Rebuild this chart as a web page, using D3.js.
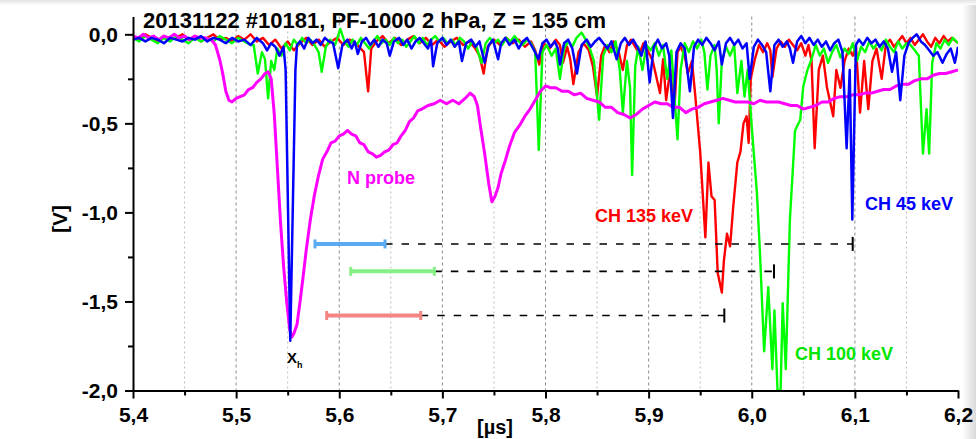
<!DOCTYPE html>
<html>
<head>
<meta charset="utf-8">
<script src="https://cdn.jsdelivr.net/npm/d3@7"></script>
<style>
  body { margin: 0; background: #fff; }
  svg { display: block; font-family: "Liberation Sans", Arial, sans-serif; }
</style>
</head>
<body>
<div id="chart"></div>
<script>
// -----------------------------
// DATA
// time in µs, signal in V
// -----------------------------
const titleText = "20131122 #10181, PF-1000 2 hPa, Z = 135 cm";

const xMajorTicks = [5.4, 5.5, 5.6, 5.7, 5.8, 5.9, 6.0, 6.1, 6.2];
const xMinorTicks = [5.45, 5.55, 5.65, 5.75, 5.85, 5.95, 6.05, 6.15];
const yMajorTicks = [0.0, -0.5, -1.0, -1.5, -2.0];
const yMinorTicks = [-0.25, -0.75, -1.25, -1.75];

// N probe (magenta)
const nProbe = [
  [5.400,-0.01],[5.405,-0.02],[5.410,0.00],[5.415,-0.02],[5.420,-0.01],[5.425,-0.03],[5.430,-0.01],
  [5.435,-0.02],[5.440,0.00],[5.445,-0.02],[5.450,-0.01],[5.455,-0.03],[5.460,-0.01],[5.465,-0.02],
  [5.470,-0.02],[5.476,-0.03],[5.480,-0.06],[5.484,-0.14],[5.487,-0.22],[5.490,-0.32],[5.493,-0.37],
  [5.496,-0.38],[5.500,-0.36],[5.504,-0.35],[5.508,-0.34],[5.512,-0.31],[5.516,-0.30],[5.520,-0.27],
  [5.524,-0.25],[5.528,-0.22],[5.531,-0.21],[5.534,-0.25],[5.537,-0.45],[5.540,-0.75],[5.543,-1.05],
  [5.546,-1.30],[5.549,-1.50],[5.552,-1.66],[5.554,-1.70],[5.556,-1.68],[5.559,-1.63],[5.562,-1.50],
  [5.565,-1.36],[5.568,-1.21],[5.572,-1.04],[5.576,-0.90],[5.580,-0.79],[5.584,-0.70],[5.588,-0.66],
  [5.592,-0.61],[5.596,-0.60],[5.600,-0.57],[5.604,-0.56],[5.608,-0.54],[5.612,-0.56],[5.616,-0.57],
  [5.620,-0.61],[5.624,-0.62],[5.628,-0.66],[5.632,-0.67],[5.636,-0.69],[5.640,-0.68],[5.644,-0.66],
  [5.648,-0.65],[5.652,-0.62],[5.656,-0.61],[5.660,-0.57],[5.664,-0.54],[5.668,-0.49],[5.672,-0.47],
  [5.676,-0.43],[5.680,-0.42],[5.686,-0.40],[5.692,-0.39],[5.698,-0.37],[5.704,-0.39],[5.710,-0.37],
  [5.716,-0.39],[5.722,-0.36],[5.727,-0.33],[5.731,-0.35],[5.734,-0.40],[5.737,-0.52],[5.741,-0.67],
  [5.745,-0.84],[5.748,-0.94],[5.751,-0.91],[5.754,-0.86],[5.757,-0.78],[5.761,-0.71],[5.765,-0.63],
  [5.770,-0.55],[5.775,-0.51],[5.780,-0.46],[5.785,-0.42],[5.790,-0.37],[5.795,-0.32],[5.800,-0.29],
  [5.805,-0.30],[5.810,-0.30],[5.816,-0.32],[5.822,-0.32],[5.828,-0.34],[5.834,-0.33],[5.840,-0.36],
  [5.846,-0.37],[5.852,-0.38],[5.858,-0.41],[5.864,-0.41],[5.870,-0.44],[5.876,-0.45],[5.882,-0.47],
  [5.888,-0.45],[5.894,-0.42],[5.900,-0.40],[5.906,-0.38],[5.912,-0.39],[5.918,-0.39],[5.924,-0.41],
  [5.930,-0.41],[5.936,-0.44],[5.942,-0.42],[5.948,-0.41],[5.954,-0.39],[5.960,-0.38],[5.966,-0.37],
  [5.972,-0.36],[5.978,-0.37],[5.984,-0.38],[5.990,-0.38],[5.996,-0.38],[6.002,-0.39],[6.008,-0.37],
  [6.014,-0.38],[6.020,-0.38],[6.026,-0.38],[6.032,-0.39],[6.038,-0.40],[6.044,-0.40],[6.050,-0.42],
  [6.056,-0.41],[6.062,-0.40],[6.068,-0.38],[6.074,-0.38],[6.080,-0.36],[6.086,-0.35],[6.092,-0.35],
  [6.098,-0.34],[6.104,-0.34],[6.110,-0.33],[6.116,-0.33],[6.122,-0.32],[6.128,-0.31],[6.134,-0.31],
  [6.140,-0.29],[6.146,-0.28],[6.152,-0.28],[6.158,-0.26],[6.164,-0.25],[6.170,-0.25],[6.176,-0.23],
  [6.182,-0.22],[6.188,-0.22],[6.194,-0.21],[6.200,-0.20]
];

// CH 135 keV (red)
const ch135 = [
  [5.400,-0.01],[5.406,-0.03],[5.412,0.00],[5.418,-0.02],[5.424,-0.04],[5.430,-0.01],[5.436,-0.03],
  [5.442,-0.02],[5.448,0.00],[5.454,-0.03],[5.460,-0.01],[5.466,-0.04],[5.472,-0.02],[5.478,0.00],
  [5.484,-0.03],[5.490,-0.02],[5.496,-0.04],[5.502,-0.01],[5.508,-0.03],[5.514,0.00],[5.520,-0.04],
  [5.526,-0.02],[5.532,-0.06],[5.538,-0.03],[5.544,-0.08],[5.550,-0.04],[5.556,-0.09],[5.562,-0.05],
  [5.568,-0.02],[5.574,-0.06],[5.580,-0.03],[5.586,-0.07],[5.592,-0.04],[5.598,-0.02],[5.604,-0.06],
  [5.610,-0.03],[5.616,-0.05],[5.624,-0.10],[5.628,-0.32],[5.631,-0.08],[5.636,-0.04],[5.642,-0.01],
  [5.648,-0.05],[5.654,-0.02],[5.660,-0.06],[5.666,-0.03],[5.672,-0.01],[5.678,-0.05],[5.684,-0.02],
  [5.690,-0.06],[5.696,-0.03],[5.702,-0.07],[5.708,-0.04],[5.714,-0.02],[5.720,-0.06],[5.726,-0.04],
  [5.732,-0.08],[5.736,-0.12],[5.740,-0.22],[5.744,-0.07],[5.750,-0.03],[5.756,-0.06],[5.762,-0.02],
  [5.768,-0.05],[5.774,-0.03],[5.780,-0.07],[5.786,-0.04],[5.790,-0.09],[5.794,-0.17],[5.798,-0.05],
  [5.804,-0.08],[5.810,-0.03],[5.814,-0.06],[5.817,-0.16],[5.821,-0.07],[5.824,-0.14],[5.827,-0.28],
  [5.832,-0.10],[5.837,-0.05],[5.842,-0.09],[5.846,-0.18],[5.850,-0.35],[5.854,-0.12],[5.858,-0.06],
  [5.862,-0.10],[5.866,-0.04],[5.871,-0.10],[5.875,-0.20],[5.879,-0.06],[5.883,-0.03],[5.887,-0.07],
  [5.891,-0.11],[5.895,-0.05],[5.899,-0.09],[5.904,-0.15],[5.911,-0.33],[5.914,-0.14],[5.917,-0.37],
  [5.921,-0.20],[5.925,-0.42],[5.928,-0.10],[5.931,-0.07],[5.935,-0.12],[5.938,-0.22],[5.942,-0.15],
  [5.945,-0.33],[5.950,-0.66],[5.955,-1.14],[5.958,-0.72],[5.961,-0.91],[5.964,-0.93],[5.967,-1.34],
  [5.971,-1.45],[5.973,-1.27],[5.976,-1.12],[5.979,-1.19],[5.982,-0.97],[5.986,-0.72],[5.989,-0.66],
  [5.992,-0.50],[5.995,-0.46],[5.997,-0.61],[5.999,-0.25],[6.003,-0.14],[6.007,-0.06],[6.011,-0.10],
  [6.015,-0.05],[6.018,-0.09],[6.020,-0.24],[6.024,-0.08],[6.028,-0.04],[6.032,-0.07],[6.036,-0.03],
  [6.040,-0.06],[6.044,-0.09],[6.048,-0.05],[6.052,-0.12],[6.055,-0.06],[6.058,-0.15],[6.061,-0.64],
  [6.065,-0.20],[6.069,-0.12],[6.073,-0.30],[6.079,-0.46],[6.082,-0.20],[6.086,-0.30],[6.090,-0.15],
  [6.094,-0.08],[6.098,-0.12],[6.101,-0.06],[6.105,-0.44],[6.109,-0.15],[6.113,-0.42],[6.117,-0.15],
  [6.121,-0.08],[6.126,-0.25],[6.130,-0.06],[6.134,-0.03],[6.138,-0.07],[6.142,-0.04],[6.146,-0.01],
  [6.150,-0.05],[6.154,-0.02],[6.158,-0.06],[6.162,-0.03],[6.166,0.00],[6.170,-0.04],[6.174,-0.07],
  [6.178,-0.02],[6.182,-0.05],[6.186,-0.01],[6.190,-0.04],[6.194,-0.02],[6.200,-0.05]
];

// CH 100 keV (green)
const ch100 = [
  [5.400,-0.02],[5.406,-0.04],[5.412,-0.01],[5.418,-0.03],[5.424,-0.05],[5.430,-0.02],[5.436,-0.04],
  [5.442,-0.01],[5.448,-0.03],[5.454,-0.05],[5.460,-0.02],[5.466,-0.04],[5.472,-0.02],[5.478,-0.04],
  [5.484,-0.01],[5.490,-0.03],[5.496,-0.05],[5.502,-0.02],[5.508,-0.04],[5.514,-0.06],[5.517,-0.06],
  [5.521,-0.22],[5.525,-0.10],[5.528,-0.14],[5.531,-0.36],[5.534,-0.15],[5.537,-0.20],[5.540,-0.08],
  [5.544,-0.12],[5.548,-0.05],[5.552,-0.09],[5.556,-0.03],[5.560,-0.06],[5.564,-0.02],[5.568,-0.05],
  [5.572,-0.03],[5.576,-0.06],[5.580,-0.10],[5.583,-0.21],[5.587,-0.07],[5.591,-0.03],[5.596,-0.06],
  [5.601,0.03],[5.605,-0.04],[5.609,-0.07],[5.613,-0.03],[5.617,-0.06],[5.621,-0.02],[5.625,-0.05],
  [5.629,-0.08],[5.633,-0.04],[5.637,-0.01],[5.641,-0.05],[5.645,-0.03],[5.649,-0.06],[5.653,-0.02],
  [5.657,-0.05],[5.661,-0.03],[5.665,-0.07],[5.669,-0.04],[5.673,-0.01],[5.677,-0.05],[5.681,-0.02],
  [5.685,-0.06],[5.689,-0.03],[5.693,-0.01],[5.697,-0.04],[5.701,-0.02],[5.705,-0.05],[5.709,-0.03],
  [5.713,-0.06],[5.717,-0.02],[5.721,-0.04],[5.725,-0.08],[5.729,-0.04],[5.733,-0.07],[5.738,-0.16],
  [5.742,-0.05],[5.746,-0.02],[5.750,-0.05],[5.754,-0.03],[5.758,-0.06],[5.762,-0.02],[5.766,-0.04],
  [5.770,-0.01],[5.774,-0.04],[5.778,-0.06],[5.782,-0.03],[5.786,-0.05],[5.790,-0.10],[5.7935,-0.65],
  [5.797,-0.10],[5.801,-0.06],[5.806,-0.12],[5.810,-0.08],[5.814,-0.25],[5.818,-0.08],[5.822,-0.04],
  [5.826,-0.07],[5.830,-0.02],[5.835,0.01],[5.839,-0.03],[5.843,-0.08],[5.847,-0.15],[5.852,-0.48],
  [5.856,-0.12],[5.860,-0.06],[5.864,-0.10],[5.868,-0.04],[5.872,-0.20],[5.875,-0.44],[5.879,-0.15],
  [5.882,-0.30],[5.884,-0.79],[5.887,-0.18],[5.890,-0.07],[5.894,-0.20],[5.898,-0.06],[5.902,-0.09],
  [5.906,-0.05],[5.910,-0.12],[5.914,-0.06],[5.918,-0.25],[5.922,-0.09],[5.928,-0.59],[5.931,-0.20],
  [5.935,-0.05],[5.939,-0.10],[5.943,-0.04],[5.947,-0.08],[5.951,-0.03],[5.954,-0.10],[5.957,-0.31],
  [5.960,-0.12],[5.964,-0.06],[5.966,-0.20],[5.968,-0.50],[5.971,-0.15],[5.975,-0.07],[5.979,-0.12],
  [5.983,-0.06],[5.986,-0.33],[5.990,-0.15],[5.993,-0.35],[5.996,-0.20],[6.000,-0.52],[6.005,-0.89],
  [6.008,-1.23],[6.012,-1.78],[6.016,-1.42],[6.020,-1.88],[6.022,-1.55],[6.025,-2.00],[6.028,-2.00],
  [6.030,-1.51],[6.033,-1.88],[6.037,-1.04],[6.042,-0.54],[6.047,-0.48],[6.050,-0.29],[6.054,-0.20],
  [6.058,-0.14],[6.062,-0.06],[6.066,-0.12],[6.070,-0.08],[6.074,-0.16],[6.078,-0.10],[6.082,-0.06],
  [6.086,-0.13],[6.090,-0.08],[6.094,-0.11],[6.098,-0.05],[6.102,-0.15],[6.106,-0.07],[6.110,-0.10],
  [6.114,-0.04],[6.118,-0.08],[6.122,-0.05],[6.126,-0.09],[6.130,-0.03],[6.134,-0.07],[6.138,-0.10],
  [6.142,-0.04],[6.146,-0.08],[6.150,-0.05],[6.154,-0.06],[6.158,-0.09],[6.162,-0.12],[6.166,-0.67],
  [6.1695,-0.42],[6.172,-0.67],[6.175,-0.16],[6.179,-0.05],[6.183,-0.08],[6.187,-0.03],[6.191,-0.06],
  [6.195,-0.02],[6.200,-0.05]
];

// CH 45 keV (blue)
const ch45 = [
  [5.400,-0.03],[5.406,-0.02],[5.412,-0.04],[5.418,-0.02],[5.424,-0.03],[5.430,-0.05],[5.436,-0.02],
  [5.442,-0.03],[5.448,-0.04],[5.454,-0.02],[5.460,-0.03],[5.466,-0.01],[5.472,-0.04],[5.478,-0.02],
  [5.484,-0.03],[5.490,-0.05],[5.496,-0.02],[5.502,-0.04],[5.508,-0.03],[5.514,-0.06],[5.520,-0.02],
  [5.526,-0.05],[5.530,-0.09],[5.534,-0.05],[5.538,-0.07],[5.542,-0.12],[5.546,-0.07],[5.548,-0.20],
  [5.5525,-1.72],[5.5575,-0.20],[5.559,-0.06],[5.562,-0.04],[5.566,-0.08],[5.570,-0.02],[5.574,-0.05],
  [5.578,-0.03],[5.582,-0.06],[5.586,-0.02],[5.590,-0.04],[5.594,-0.05],[5.599,-0.19],[5.603,-0.06],
  [5.608,-0.03],[5.612,-0.08],[5.615,-0.04],[5.618,-0.11],[5.622,-0.04],[5.626,-0.02],[5.630,-0.06],
  [5.634,-0.03],[5.638,-0.07],[5.642,-0.03],[5.646,-0.05],[5.649,-0.12],[5.653,-0.04],[5.658,-0.02],
  [5.662,-0.06],[5.666,-0.03],[5.670,-0.08],[5.674,-0.04],[5.678,-0.02],[5.682,-0.05],[5.686,-0.08],
  [5.689,-0.03],[5.691,-0.18],[5.695,-0.05],[5.700,-0.02],[5.704,-0.06],[5.708,-0.03],[5.712,-0.07],
  [5.716,-0.04],[5.719,-0.15],[5.723,-0.05],[5.728,-0.03],[5.732,-0.07],[5.736,-0.04],[5.741,-0.16],
  [5.745,-0.06],[5.749,-0.03],[5.754,-0.14],[5.757,-0.05],[5.761,-0.02],[5.765,-0.06],[5.770,-0.03],
  [5.774,-0.08],[5.778,-0.04],[5.782,-0.02],[5.786,-0.06],[5.789,-0.09],[5.793,-0.14],[5.797,-0.05],
  [5.801,-0.03],[5.805,-0.07],[5.809,-0.04],[5.812,-0.08],[5.814,-0.17],[5.818,-0.05],[5.822,-0.03],
  [5.826,-0.08],[5.8305,-0.22],[5.835,-0.06],[5.840,-0.03],[5.844,-0.07],[5.848,-0.04],[5.852,-0.02],
  [5.856,-0.05],[5.860,-0.08],[5.864,-0.04],[5.869,-0.14],[5.873,-0.05],[5.877,-0.02],[5.881,-0.06],
  [5.885,-0.03],[5.889,-0.07],[5.893,-0.12],[5.897,-0.04],[5.901,-0.27],[5.905,-0.07],[5.909,-0.03],
  [5.913,-0.08],[5.917,-0.05],[5.920,-0.12],[5.9236,-0.47],[5.927,-0.10],[5.931,-0.05],[5.935,-0.08],
  [5.940,-0.32],[5.944,-0.07],[5.948,-0.03],[5.952,-0.06],[5.956,-0.02],[5.960,-0.05],[5.964,-0.09],
  [5.968,-0.04],[5.971,-0.17],[5.975,-0.05],[5.979,-0.02],[5.983,-0.06],[5.987,-0.03],[5.991,-0.08],
  [5.995,-0.05],[5.998,-0.25],[6.002,-0.07],[6.006,-0.03],[6.010,-0.06],[6.014,-0.10],[6.018,-0.32],
  [6.022,-0.06],[6.026,-0.03],[6.030,-0.07],[6.034,-0.04],[6.037,-0.08],[6.040,-0.16],[6.044,-0.04],
  [6.048,-0.01],[6.052,-0.05],[6.056,-0.02],[6.060,-0.06],[6.064,-0.03],[6.068,-0.07],[6.072,-0.04],
  [6.076,-0.09],[6.080,-0.05],[6.084,-0.03],[6.088,-0.10],[6.092,-0.64],[6.095,-0.20],[6.0975,-1.04],
  [6.101,-0.06],[6.104,-0.03],[6.108,-0.06],[6.112,-0.02],[6.116,-0.05],[6.120,-0.03],[6.124,-0.07],
  [6.128,-0.04],[6.132,-0.08],[6.136,-0.21],[6.140,-0.10],[6.144,-0.37],[6.148,-0.12],[6.152,-0.05],
  [6.156,-0.02],[6.160,0.00],[6.164,-0.04],[6.168,-0.06],[6.172,-0.09],[6.176,-0.12],[6.180,-0.10],
  [6.185,-0.16],[6.189,-0.11],[6.193,-0.08],[6.197,-0.16],[6.200,-0.07]
];

// time-of-flight bars: coloured window + dashed extension
const barColors = ["#5aaaf2", "#86f086", "#f58585"];
const barStart  = [5.5765, 5.6111, 5.5878];
const barEnd    = [5.6444, 5.6922, 5.6790];
const barLevel  = [-1.177, -1.331, -1.579];
const dashEnd   = [6.0979, 6.0216, 5.9734];

// trace labels
const labelText  = ["N probe", "CH 135 keV", "CH 45 keV", "CH 100 keV"];
const labelColor = ["#ff00ff", "#ff0000", "#0000ff", "#00e600"];
const labelT     = [5.6075, 5.848, 6.1098, 6.042];
const labelV     = [-0.842, -1.052, -0.985, -1.827];

// -----------------------------
// SIZES
// -----------------------------
const width = 976;
const height = 439;
const plotLeft = 133, plotRight = 958, plotTop = 16.5, plotBottom = 390.5;

const svg = d3.select("#chart")
    .append("svg")
    .attr("width", width)
    .attr("height", height);

// faint frame shading seen on the screenshot edges
const defs = svg.append("defs");
const gRight = defs.append("linearGradient").attr("id", "shadeR");
gRight.append("stop").attr("offset", "0%").attr("stop-color", "#fff");
gRight.append("stop").attr("offset", "100%").attr("stop-color", "#d9d9d9");
const gTop = defs.append("linearGradient").attr("id", "shadeT")
    .attr("x1", 0).attr("x2", 0).attr("y1", 0).attr("y2", 1);
gTop.append("stop").attr("offset", "0%").attr("stop-color", "#e2e2e2");
gTop.append("stop").attr("offset", "100%").attr("stop-color", "#fff");
defs.append("clipPath").attr("id", "plotClip")
    .append("rect")
    .attr("x", plotLeft).attr("y", plotTop - 10)
    .attr("width", plotRight - plotLeft).attr("height", plotBottom - plotTop + 11);

svg.append("rect").attr("x", 962).attr("y", 0).attr("width", 14).attr("height", height)
    .attr("fill", "url(#shadeR)");
svg.append("rect").attr("x", 0).attr("y", 0).attr("width", width).attr("height", 5)
    .attr("fill", "url(#shadeT)");

// -----------------------------
// SCALES
// -----------------------------
const x = d3.scaleLinear().domain([5.4, 6.2]).range([plotLeft, plotRight]);
const y = d3.scaleLinear().domain([-2.0, 0.1]).range([plotBottom, plotTop]);

const fmt = d => d3.format(".1f")(d).replace(".", ",").replace("−", "-");

// -----------------------------
// VERTICAL GRID
// -----------------------------
const grid = svg.append("g");
grid.selectAll("line.major")
    .data(xMajorTicks.slice(1, -1))
    .join("line")
    .attr("class", "major")
    .attr("x1", d => x(d)).attr("x2", d => x(d))
    .attr("y1", plotTop).attr("y2", plotBottom)
    .attr("stroke", "#8c8c8c")
    .attr("stroke-width", 1)
    .attr("stroke-dasharray", "3,3");
grid.selectAll("line.minor")
    .data(xMinorTicks)
    .join("line")
    .attr("class", "minor")
    .attr("x1", d => x(d)).attr("x2", d => x(d))
    .attr("y1", plotTop).attr("y2", plotBottom)
    .attr("stroke", "#bdbdbd")
    .attr("stroke-width", 1)
    .attr("stroke-dasharray", "2,3");

// -----------------------------
// TRACES
// -----------------------------
const line = d3.line().x(d => x(d[0])).y(d => y(d[1]));
const traces = svg.append("g").attr("clip-path", "url(#plotClip)");

[[ch135, "#ff0000", 2.4], [ch100, "#00ff00", 2.4], [nProbe, "#ff00ff", 3], [ch45, "#0000ff", 2.5]]
    .forEach(([data, color, w]) => {
        traces.append("path")
            .datum(data)
            .attr("d", line)
            .attr("fill", "none")
            .attr("stroke", color)
            .attr("stroke-width", w)
            .attr("stroke-linejoin", "round");
    });

// -----------------------------
// TIME-OF-FLIGHT BARS
// -----------------------------
const bars = svg.append("g");
barStart.forEach((t0, i) => {
    const yy = y(barLevel[i]);
    bars.append("line")
        .attr("x1", x(barEnd[i])).attr("x2", x(dashEnd[i]))
        .attr("y1", yy).attr("y2", yy)
        .attr("stroke", "#000").attr("stroke-width", 1.6)
        .attr("stroke-dasharray", "7.5,9");
    bars.append("line")
        .attr("x1", x(dashEnd[i])).attr("x2", x(dashEnd[i]))
        .attr("y1", yy - 7).attr("y2", yy + 7)
        .attr("stroke", "#000").attr("stroke-width", 2);
    bars.append("line")
        .attr("x1", x(t0)).attr("x2", x(barEnd[i]))
        .attr("y1", yy).attr("y2", yy)
        .attr("stroke", barColors[i]).attr("stroke-width", 4);
    [t0, barEnd[i]].forEach(t => {
        bars.append("line")
            .attr("x1", x(t)).attr("x2", x(t))
            .attr("y1", yy - 4.5).attr("y2", yy + 4.5)
            .attr("stroke", barColors[i]).attr("stroke-width", 3);
    });
});

// -----------------------------
// AXES
// -----------------------------
svg.append("g")
    .attr("transform", `translate(0,${plotBottom})`)
    .call(d3.axisBottom(x).tickValues(xMajorTicks).tickFormat(fmt)
        .tickSize(8).tickSizeOuter(0).tickPadding(9));
svg.append("g")
    .attr("transform", `translate(0,${plotBottom})`)
    .call(d3.axisBottom(x).tickValues(xMinorTicks).tickFormat("").tickSize(5).tickSizeOuter(0))
    .call(g => g.select(".domain").remove());

svg.append("g")
    .attr("transform", `translate(${plotLeft},0)`)
    .call(d3.axisLeft(y).tickValues(yMajorTicks).tickFormat(fmt)
        .tickSize(8).tickSizeOuter(0).tickPadding(7));
svg.append("g")
    .attr("transform", `translate(${plotLeft},0)`)
    .call(d3.axisLeft(y).tickValues(yMinorTicks).tickFormat("").tickSize(5).tickSizeOuter(0))
    .call(g => g.select(".domain").remove());

svg.selectAll(".domain, .tick line")
    .attr("stroke", "#000")
    .attr("stroke-width", 2);
svg.selectAll(".tick text")
    .attr("fill", "#000")
    .style("font-size", "21px")
    .style("font-weight", "bold")
    .style("font-family", "'Liberation Sans', Arial, sans-serif");

// axis titles
svg.append("text")
    .attr("x", 495).attr("y", 434)
    .attr("text-anchor", "middle")
    .style("font-size", "20px").style("font-weight", "bold")
    .text("[µs]");
svg.append("text")
    .attr("transform", "translate(67,219) rotate(-90)")
    .attr("text-anchor", "middle")
    .style("font-size", "21px").style("font-weight", "bold")
    .text("[V]");

// title
svg.append("text")
    .attr("x", 143).attr("y", 28)
    .style("font-size", "22px").style("font-weight", "bold")
    .text(titleText);

// trace labels
labelText.forEach((txt, i) => {
    svg.append("text")
        .attr("x", x(labelT[i])).attr("y", y(labelV[i]))
        .attr("fill", labelColor[i])
        .style("font-size", "18px").style("font-weight", "bold")
        .text(txt);
});

// X_h marker under the main dip
const xh = svg.append("text")
    .attr("x", x(5.5493)).attr("y", y(-1.845))
    .style("font-size", "15px").style("font-weight", "bold");
xh.append("tspan").text("X");
xh.append("tspan").attr("dy", 5).style("font-size", "9px").text("h");
</script>
</body>
</html>
